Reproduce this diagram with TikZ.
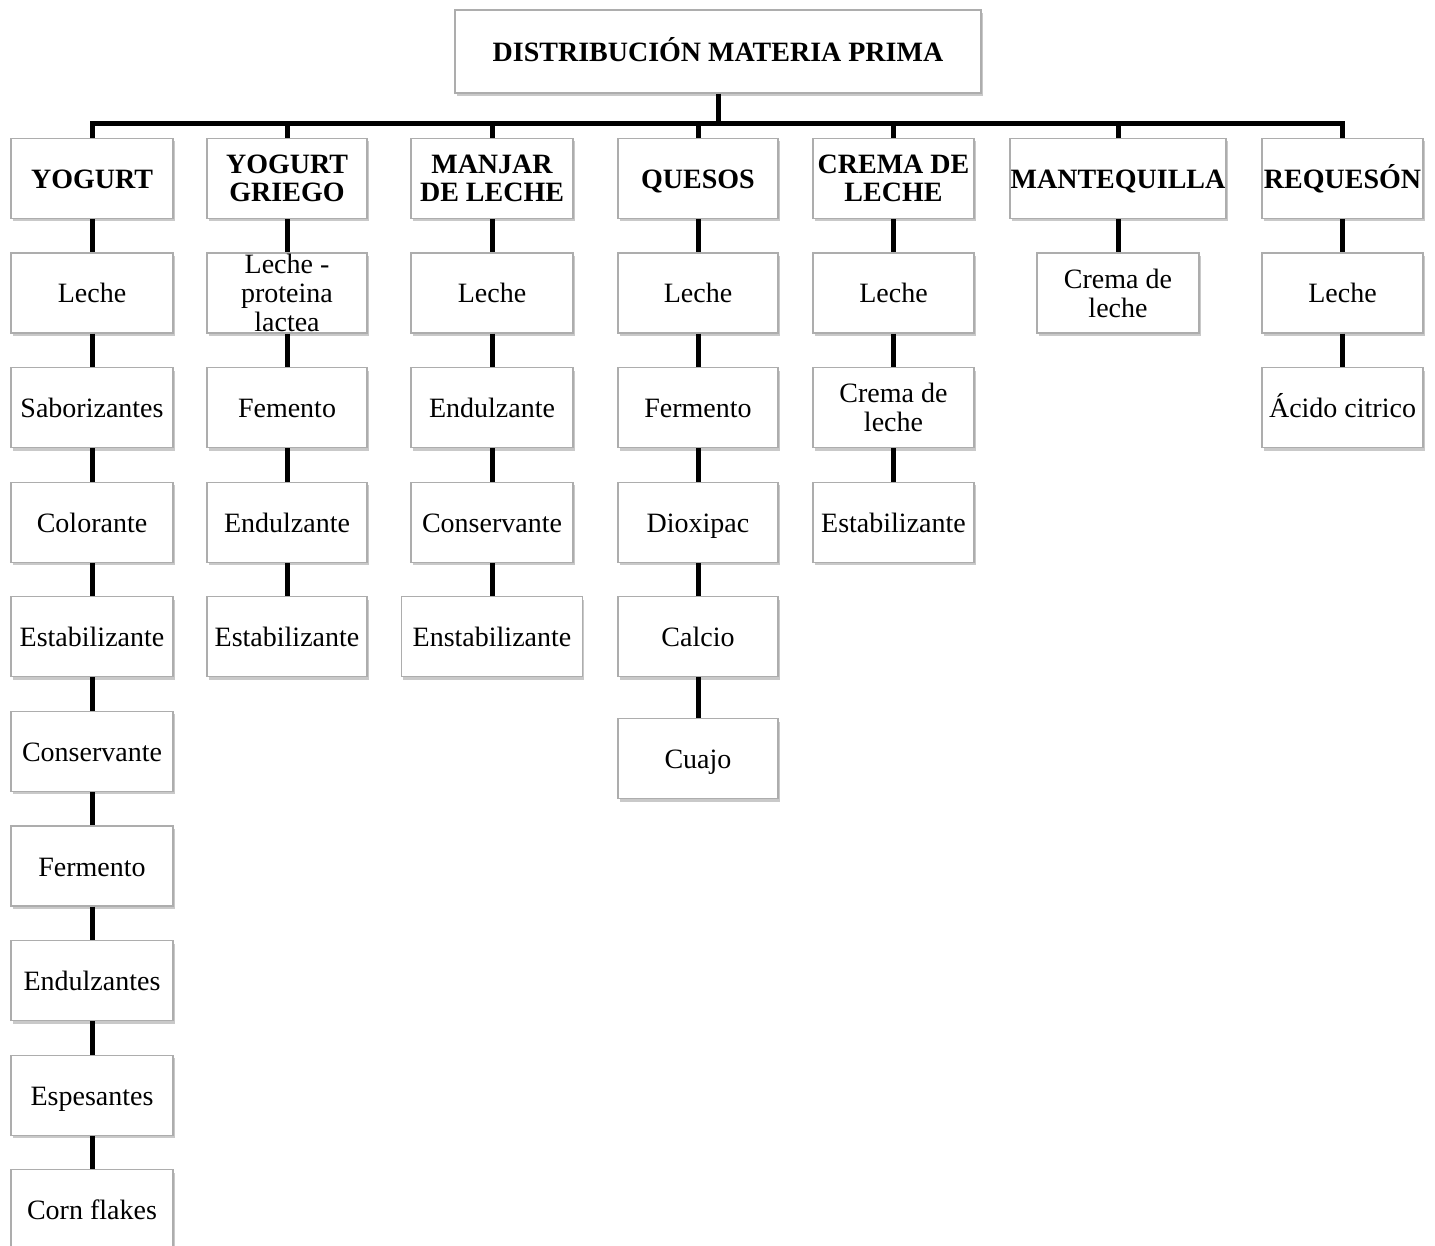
\documentclass[tikz,border=0pt]{standalone}
\usepackage{fontspec}
\setmainfont{Liberation Serif}
\usetikzlibrary{shadows}
\tikzset{
  mbox/.style={draw=black!32, line width=1.2pt, fill=white, minimum height=80pt,
    inner sep=0pt, align=center, text=black, font=\fontsize{28}{29}\selectfont,
    drop shadow={shadow xshift=1.5pt, shadow yshift=-3pt, opacity=0.3, fill=black!70}},
  box/.style={mbox, text height=26pt, text depth=6pt},
  mhbox/.style={mbox, font=\fontsize{28}{28}\selectfont\bfseries},
  hbox/.style={mhbox, text height=26pt, text depth=6pt},
  conn/.style={line width=5pt, black},
}
\begin{document}
\begin{tikzpicture}[x=1pt,y=-1pt]
\useasboundingbox (0,0) rectangle (1435,1246);
% top
\node[hbox, minimum width=526pt, minimum height=83pt] (top) at (718,51.5) {DISTRIBUCIÓN MATERIA PRIMA};
\coordinate (bar) at (718,124);
% headers
\node[hbox, minimum width=162pt] (h1) at (92,178.5) {YOGURT};
\node[mhbox, minimum width=160pt] (h2) at (287,178.5) {YOGURT\\GRIEGO};
\node[mhbox, minimum width=162pt] (h3) at (492,178.5) {MANJAR\\DE LECHE};
\node[hbox, minimum width=160pt] (h4) at (698,178.5) {QUESOS};
\node[mhbox, minimum width=161pt] (h5) at (893.5,178.5) {CREMA DE\\LECHE};
\node[hbox, minimum width=216pt] (h6) at (1118,178.5) {MANTEQUILLA};
\node[hbox, minimum width=161pt] (h7) at (1342.5,178.5) {REQUESÓN};
% column 1
\node[box, minimum width=162pt] (a1) at (92,293) {Leche};
\node[box, minimum width=162pt] (a2) at (92,407.6) {Saborizantes};
\node[box, minimum width=162pt] (a3) at (92,522.2) {Colorante};
\node[box, minimum width=162pt] (a4) at (92,636.8) {Estabilizante};
\node[box, minimum width=162pt] (a5) at (92,751.4) {Conservante};
\node[box, minimum width=162pt] (a6) at (92,866) {Fermento};
\node[box, minimum width=162pt] (a7) at (92,980.6) {Endulzantes};
\node[box, minimum width=162pt] (a8) at (92,1095.2) {Espesantes};
\node[box, minimum width=162pt] (a9) at (92,1209.8) {Corn flakes};
% column 2
\node[mbox, minimum width=160pt] (b1) at (287,293) {Leche -\\proteina\\lactea};
\node[box, minimum width=160pt] (b2) at (287,407.6) {Femento};
\node[box, minimum width=160pt] (b3) at (287,522.2) {Endulzante};
\node[box, minimum width=160pt] (b4) at (287,636.8) {Estabilizante};
% column 3
\node[box, minimum width=162pt] (c1) at (492,293) {Leche};
\node[box, minimum width=162pt] (c2) at (492,407.6) {Endulzante};
\node[box, minimum width=162pt] (c3) at (492,522.2) {Conservante};
\node[box, minimum width=181pt] (c4) at (492,636.8) {Enstabilizante};
% column 4
\node[box, minimum width=160pt] (d1) at (698,293) {Leche};
\node[box, minimum width=160pt] (d2) at (698,407.6) {Fermento};
\node[box, minimum width=160pt] (d3) at (698,522.2) {Dioxipac};
\node[box, minimum width=160pt] (d4) at (698,636.8) {Calcio};
\node[box, minimum width=160pt] (d5) at (698,758.5) {Cuajo};
% column 5
\node[box, minimum width=161pt] (e1) at (893.5,293) {Leche};
\node[mbox, minimum width=161pt] (e2) at (893.5,407.6) {Crema de\\leche};
\node[box, minimum width=161pt] (e3) at (893.5,522.2) {Estabilizante};
% column 6
\node[mbox, minimum width=162pt] (f1) at (1118,293) {Crema de\\leche};
% column 7
\node[box, minimum width=161pt] (g1) at (1342.5,293) {Leche};
\node[box, minimum width=161pt] (g2) at (1342.5,407.6) {Ácido citrico};
% connectors
\draw[conn] (top.south) -- (bar);
\draw[conn] (h1.north) |- (h7.north |- bar) -- (h7.north);
\foreach \h in {h2,h3,h4,h5,h6} \draw[conn] (\h.north) -- (\h.north |- bar);
\draw[conn] (h1) -- (a1); \draw[conn] (a1) -- (a2); \draw[conn] (a2) -- (a3);
\draw[conn] (a3) -- (a4); \draw[conn] (a4) -- (a5); \draw[conn] (a5) -- (a6);
\draw[conn] (a6) -- (a7); \draw[conn] (a7) -- (a8); \draw[conn] (a8) -- (a9);
\draw[conn] (h2) -- (b1); \draw[conn] (b1) -- (b2); \draw[conn] (b2) -- (b3); \draw[conn] (b3) -- (b4);
\draw[conn] (h3) -- (c1); \draw[conn] (c1) -- (c2); \draw[conn] (c2) -- (c3); \draw[conn] (c3) -- (c4);
\draw[conn] (h4) -- (d1); \draw[conn] (d1) -- (d2); \draw[conn] (d2) -- (d3); \draw[conn] (d3) -- (d4); \draw[conn] (d4) -- (d5);
\draw[conn] (h5) -- (e1); \draw[conn] (e1) -- (e2); \draw[conn] (e2) -- (e3);
\draw[conn] (h6) -- (f1);
\draw[conn] (h7) -- (g1); \draw[conn] (g1) -- (g2);
\end{tikzpicture}
\end{document}
